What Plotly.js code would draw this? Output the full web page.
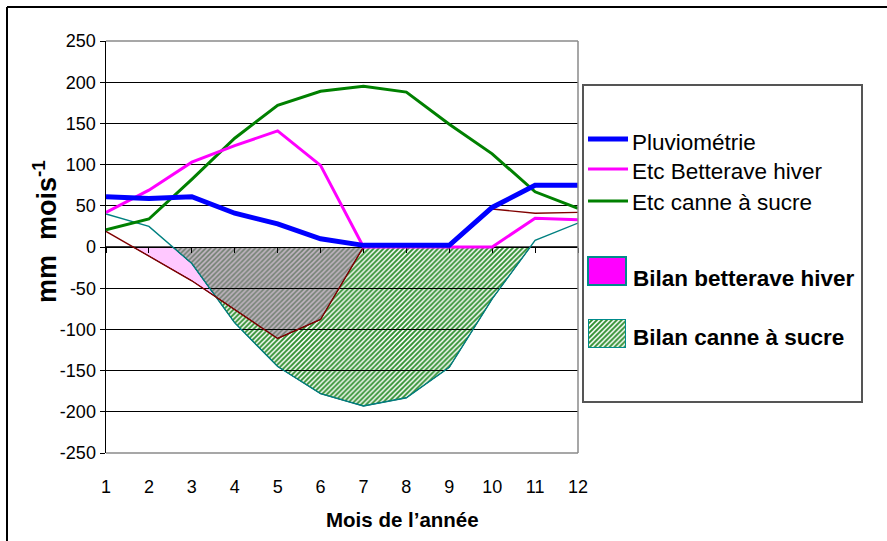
<!DOCTYPE html>
<html>
<head>
<meta charset="utf-8">
<script src="https://cdn.plot.ly/plotly-3.0.1.min.js"></script>
<style>html,body{margin:0;padding:0;background:#fff;}#chart{width:887px;height:541px;}</style>
</head>
<body>
<div id="chart"></div>
<script>
// ---- data ----
const months = [1, 2, 3, 4, 5, 6, 7, 8, 9, 10, 11, 12];
const pluviometrie = [61, 59, 61, 41, 28, 10, 2, 2, 2, 48, 75, 75];
const etcBetterave = [42, 69, 103, 123, 141, 99, 0, 0, 0, 0, 35, 33];
const etcCanne = [21, 34, 82, 132, 172, 189, 195, 188, 149, 113, 67, 47];
const bilanBetterave = [19, -11, -41, -76, -111, -88, 0, 0, 0, 46, 41, 42];
const bilanCanne = [40, 25, -20, -92, -145, -178, -193, -183, -146, -63, 8, 29];
const yTicks = [-250, -200, -150, -100, -50, 0, 50, 100, 150, 200, 250];

// ---- geometry helpers (pixel -> paper) ----
const L = 106, R = 867, T = 41, B = 453;
const W = R - L, H = B - T;
const D = (578 - L) / W;           // plot domain width fraction
const px = v => (v - L) / W;
const py = v => (B - v) / H;
const FONT = "Liberation Sans, Arial, Helvetica, sans-serif";

// piecewise-linear combination with exact crossing points
function pwCombine(x, a, b, pick) {
  const X = [], Y = [];
  for (let i = 0; i < x.length; i++) {
    X.push(x[i]); Y.push(pick(a[i], b[i]));
    if (i < x.length - 1) {
      const d0 = a[i] - b[i], d1 = a[i + 1] - b[i + 1];
      if (d0 * d1 < 0) {
        const t = d0 / (d0 - d1);
        X.push(x[i] + t * (x[i + 1] - x[i]));
        Y.push(a[i] + t * (a[i + 1] - a[i]));
      }
    }
  }
  return {x: X, y: Y};
}
const negPart = (x, y) => pwCombine(x, y, x.map(() => 0), Math.min);

const negBett = negPart(months, bilanBetterave);
const negCanne = negPart(months, bilanCanne);
const upper = pwCombine(months, bilanBetterave, bilanCanne, Math.max);
const negBoth = negPart(upper.x, upper.y);

const greenHatch = {shape: '/', fgcolor: '#2f8f2f', bgcolor: '#ffffff', size: 3.5, solidity: 0.55};
const greyHatch = {shape: '/', fgcolor: '#6e7e6e', bgcolor: '#c0b4c0', size: 3.5, solidity: 0.45};

const traces = [
  // fills (subplot 1, below the grid)
  {x: negBett.x, y: negBett.y, type: 'scatter', mode: 'lines', fill: 'tozeroy',
   fillcolor: '#ffc8ff', line: {color: '#000000', width: 0.8}, xaxis: 'x', yaxis: 'y', hoverinfo: 'skip'},
  {x: negCanne.x, y: negCanne.y, type: 'scatter', mode: 'lines', fill: 'tozeroy',
   fillpattern: greenHatch, line: {color: '#000000', width: 0.8}, xaxis: 'x', yaxis: 'y', hoverinfo: 'skip'},
  {x: negBoth.x, y: negBoth.y, type: 'scatter', mode: 'lines', fill: 'tozeroy',
   fillpattern: greyHatch, line: {color: '#000000', width: 0.8}, xaxis: 'x', yaxis: 'y', hoverinfo: 'skip'},
  // lines (subplot 2, above the grid)
  {x: months, y: bilanCanne, type: 'scatter', mode: 'lines', line: {color: '#008080', width: 1.4}, xaxis: 'x2', yaxis: 'y2'},
  {x: months, y: bilanBetterave, type: 'scatter', mode: 'lines', line: {color: '#800000', width: 1.4}, xaxis: 'x2', yaxis: 'y2'},
  {x: months, y: etcCanne, type: 'scatter', mode: 'lines', line: {color: '#008000', width: 3}, xaxis: 'x2', yaxis: 'y2'},
  {x: months, y: etcBetterave, type: 'scatter', mode: 'lines', line: {color: '#ff00ff', width: 3}, xaxis: 'x2', yaxis: 'y2'},
  {x: months, y: pluviometrie, type: 'scatter', mode: 'lines', line: {color: '#0000ff', width: 5}, xaxis: 'x2', yaxis: 'y2'},
  // legend swatch with hatch (subplot 3)
  {x: [0, 1, 1, 0, 0], y: [0, 0, 1, 1, 0], type: 'scatter', mode: 'lines', fill: 'toself',
   fillpattern: greenHatch, line: {color: '#008b8b', width: 2}, xaxis: 'x3', yaxis: 'y3', hoverinfo: 'skip'}
];

const shapes = [
  // plot frame (grey) top, right, bottom
  {type: 'line', xref: 'paper', yref: 'paper', x0: 0, x1: D, y0: 1, y1: 1, line: {color: '#8a8a8a', width: 1.5}},
  {type: 'line', xref: 'paper', yref: 'paper', x0: D, x1: D, y0: 0, y1: 1, line: {color: '#8a8a8a', width: 1.5}},
  {type: 'line', xref: 'paper', yref: 'paper', x0: 0, x1: D, y0: 0, y1: 0, line: {color: '#8a8a8a', width: 1.5}},
  // outer chart border
  {type: 'line', xref: 'paper', yref: 'paper', x0: px(7), x1: px(900), y0: py(7), y1: py(7), line: {color: '#000', width: 2}},
  {type: 'line', xref: 'paper', yref: 'paper', x0: px(7), x1: px(7), y0: py(7), y1: py(560), line: {color: '#000', width: 2}},
  // legend box
  {type: 'rect', xref: 'paper', yref: 'paper', x0: px(583), x1: px(862), y0: py(402), y1: py(85),
   line: {color: '#555555', width: 2}, fillcolor: 'rgba(0,0,0,0)'},
  // legend line samples
  {type: 'line', xref: 'paper', yref: 'paper', x0: px(588), x1: px(628), y0: py(139), y1: py(139), line: {color: '#0000ff', width: 5}},
  {type: 'line', xref: 'paper', yref: 'paper', x0: px(588), x1: px(628), y0: py(169), y1: py(169), line: {color: '#ff00ff', width: 3}},
  {type: 'line', xref: 'paper', yref: 'paper', x0: px(588), x1: px(628), y0: py(201), y1: py(201), line: {color: '#008000', width: 3}},
  // legend magenta swatch
  {type: 'rect', xref: 'paper', yref: 'paper', x0: px(588), x1: px(626), y0: py(285), y1: py(257),
   line: {color: '#008b8b', width: 2}, fillcolor: '#ff00ff'}
];

const ann = (text, x, y, size, bold, extra) => Object.assign({
  text: bold ? '<b>' + text + '</b>' : text, xref: 'paper', yref: 'paper',
  x: x, y: y, showarrow: false, xanchor: 'left', yanchor: 'middle',
  font: {family: FONT, size: size, color: '#000'}
}, extra || {});

const annotations = [
  ann('Pluviométrie', px(630), py(142), 22.5, false),
  ann('Etc Betterave hiver', px(630), py(171), 22.5, false),
  ann('Etc canne à sucre', px(630), py(202), 22.5, false),
  ann('Bilan betterave hiver', px(631), py(278), 22.5, true),
  ann('Bilan canne à sucre', px(631), py(337), 22.5, true),
  ann('Mois de l’année', px(402), py(519), 20.5, true, {xanchor: 'center'}),
  ann('mm  mois<sup>-1</sup>', px(45), py(232), 27, true, {xanchor: 'center', textangle: -90})
];

const layout = {
  width: 887, height: 541,
  margin: {l: L, r: 887 - R, t: T, b: 541 - B, pad: 0},
  paper_bgcolor: '#ffffff', plot_bgcolor: 'rgba(0,0,0,0)',
  showlegend: false,
  font: {family: FONT, size: 18, color: '#000'},
  xaxis: {domain: [0, D], range: [1, 12], tickvals: months, ticktext: months.map(String),
          ticks: 'outside', ticklen: 17, tickcolor: 'rgba(0,0,0,0)', showline: false,
          showgrid: false, zeroline: false, fixedrange: true, anchor: 'y',
          tickfont: {family: FONT, size: 18, color: '#000'}},
  yaxis: {domain: [0, 1], range: [-250, 250], visible: false, fixedrange: true, anchor: 'x'},
  xaxis2: {domain: [0, D], range: [1, 12], tickvals: months, anchor: 'free', position: 0.5,
           showline: true, linecolor: '#000', linewidth: 1.2, ticks: 'outside', ticklen: 5,
           tickcolor: '#000', tickwidth: 1, showticklabels: false, showgrid: false, zeroline: false,
           fixedrange: true, layer: 'below traces'},
  yaxis2: {domain: [0, 1], range: [-250, 250], anchor: 'x2', tickvals: yTicks,
           ticktext: yTicks.map(String), ticks: 'outside', ticklen: 5, tickcolor: '#000',
           showline: true, linecolor: '#000', linewidth: 1.5, showgrid: true, gridcolor: '#000',
           gridwidth: 1, zeroline: false, fixedrange: true,
           tickfont: {family: FONT, size: 18, color: '#000'}},
  xaxis3: {domain: [px(588), px(626)], range: [0, 1], visible: false, fixedrange: true, anchor: 'y3'},
  yaxis3: {domain: [py(348), py(319)], range: [0, 1], visible: false, fixedrange: true, anchor: 'x3'},
  shapes: shapes,
  annotations: annotations
};

Plotly.newPlot('chart', traces, layout, {displayModeBar: false, staticPlot: true});
</script>
</body>
</html>
